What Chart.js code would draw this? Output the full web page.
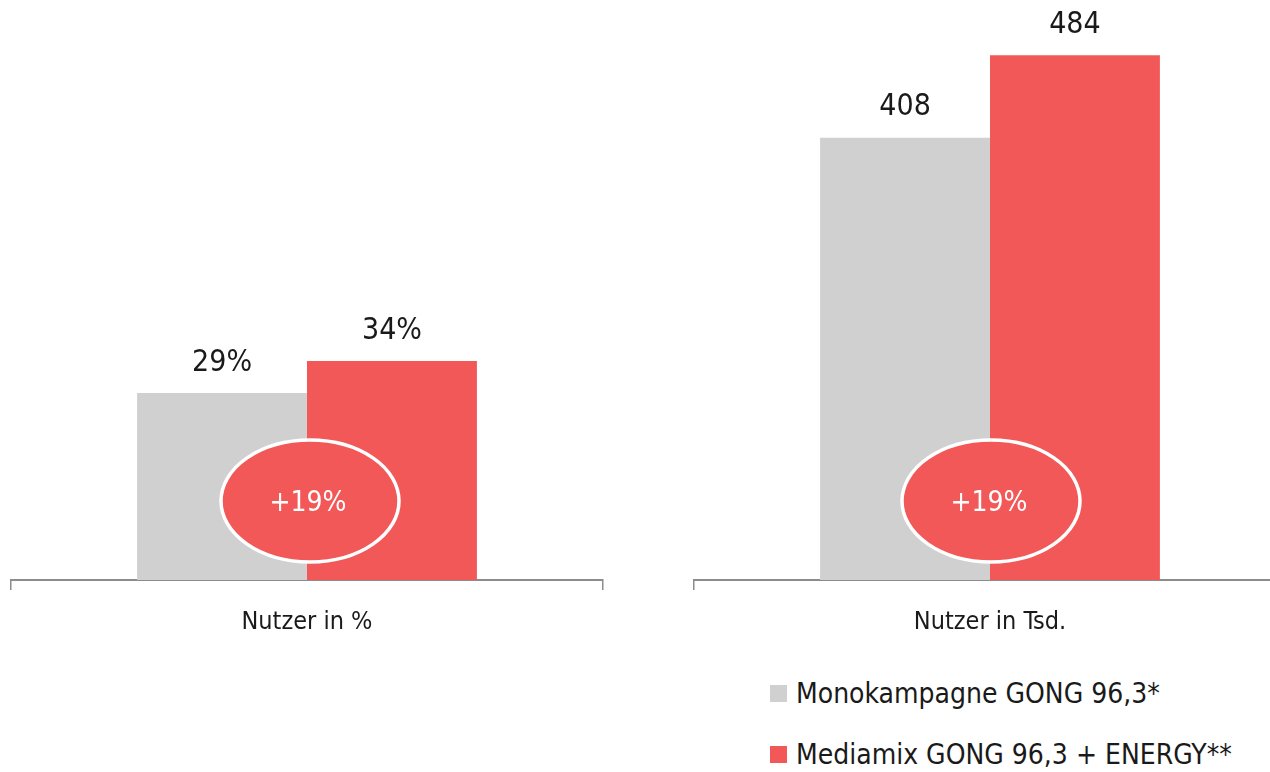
<!DOCTYPE html>
<html>
<head>
<meta charset="utf-8">
<script src="https://cdn.jsdelivr.net/npm/chart.js@4.4.1/dist/chart.umd.min.js"></script>
<style>
  html, body { margin:0; padding:0; width:1270px; height:772px; overflow:hidden; background:#fff; }
  .panel { position:absolute; top:0; width:614px; height:660px; }
  #legend { position:absolute; left:770px; top:670px; font-family:"Liberation Sans Narrow","DejaVu Sans Condensed",sans-serif; font-size:28px; color:#1a1a1a; white-space:nowrap; }
  .item { display:flex; align-items:center; height:46px; margin-bottom:15px; }
  .sw { width:17px; height:17px; margin-right:9px; flex:none; }
</style>
</head>
<body>
<div class="panel" style="left:0px"><canvas id="c1" width="614" height="660"></canvas></div>
<div class="panel" style="left:683px"><canvas id="c2" width="614" height="660"></canvas></div>
<div id="legend"></div>
<script>
// ---- data ----
const seriesNames = ['Monokampagne GONG 96,3*', 'Mediamix GONG 96,3 + ENERGY**'];
const seriesColors = ['#d0d0d0', '#f25858'];
const categoriesLeft = ['Nutzer in %'];
const categoriesRight = ['Nutzer in Tsd.'];
const monoPct = [29];
const mixPct = [34];
const monoTsd = [408];
const mixTsd = [484];
const pctLabels = ['29%', '34%'];
const tsdLabels = ['408', '484'];
const growthLabels = ['+19%'];
const pctMax = 90;
const tsdMax = 535;

const FONT = '"Liberation Sans Narrow","DejaVu Sans Condensed",sans-serif';

const valueLabelPlugin = {
  id: 'valueLabels',
  afterDatasetsDraw(chart, args, opts) {
    const ctx = chart.ctx;
    ctx.save();
    ctx.font = '30px ' + FONT;
    ctx.fillStyle = '#1a1a1a';
    ctx.textAlign = 'center';
    ctx.textBaseline = 'middle';
    chart.data.datasets.forEach((ds, i) => {
      const meta = chart.getDatasetMeta(i);
      meta.data.forEach((bar) => {
        ctx.fillText(opts.labels[i], bar.x, bar.y - 30);
      });
    });
    ctx.restore();
  }
};

const ellipsePlugin = {
  id: 'growthEllipse',
  afterDatasetsDraw(chart, args, opts) {
    const ctx = chart.ctx;
    const xs = chart.scales.x;
    const cx = xs.getPixelForValue(0) + opts.dx;
    const cy = chart.chartArea.bottom - 79;
    ctx.save();
    ctx.beginPath();
    ctx.ellipse(cx, cy, 89, 61, 0, 0, Math.PI * 2);
    ctx.fillStyle = seriesColors[1];
    ctx.fill();
    ctx.lineWidth = 3.5;
    ctx.strokeStyle = '#ffffff';
    ctx.stroke();
    ctx.fillStyle = '#ffffff';
    ctx.font = '28px ' + FONT;
    ctx.textAlign = 'center';
    ctx.textBaseline = 'middle';
    ctx.fillText(opts.text, cx - 2, cy + 3);
    ctx.restore();
  }
};

function makeChart(id, cats, a, b, max, labels, dx) {
  return new Chart(document.getElementById(id), {
    type: 'bar',
    data: {
      labels: cats,
      datasets: [
        { label: seriesNames[0], data: a, backgroundColor: seriesColors[0], borderWidth: 0 },
        { label: seriesNames[1], data: b, backgroundColor: seriesColors[1], borderWidth: 0 }
      ]
    },
    options: {
      responsive: false,
      animation: false,
      layout: { padding: { left: 11, right: 11, top: 0, bottom: 0 } },
      datasets: { bar: { categoryPercentage: 0.574, barPercentage: 1.0 } },
      plugins: {
        legend: { display: false },
        tooltip: { enabled: false },
        valueLabels: { labels: labels },
        growthEllipse: { text: growthLabels[0], dx: dx }
      },
      scales: {
        y: { display: false, min: 0, max: max },
        x: {
          afterFit(scale) { scale.height = 80; },
          border: { display: true, color: '#8c8c8c', width: 2 },
          grid: { display: true, drawOnChartArea: false, drawTicks: true, tickLength: 10, color: '#8c8c8c', lineWidth: 1.5 },
          ticks: { color: '#1a1a1a', padding: 17, font: { family: FONT, size: 25 } }
        }
      }
    },
    plugins: [valueLabelPlugin, ellipsePlugin]
  });
}

makeChart('c1', categoriesLeft, monoPct, mixPct, pctMax, pctLabels, 3);
makeChart('c2', categoriesRight, monoTsd, mixTsd, tsdMax, tsdLabels, 1);

// legend
const leg = document.getElementById('legend');
seriesNames.forEach((n, i) => {
  const it = document.createElement('div');
  it.className = 'item';
  const sw = document.createElement('div');
  sw.className = 'sw';
  sw.style.background = seriesColors[i];
  const t = document.createElement('span');
  t.textContent = n;
  it.appendChild(sw); it.appendChild(t);
  leg.appendChild(it);
});
</script>
</body>
</html>
